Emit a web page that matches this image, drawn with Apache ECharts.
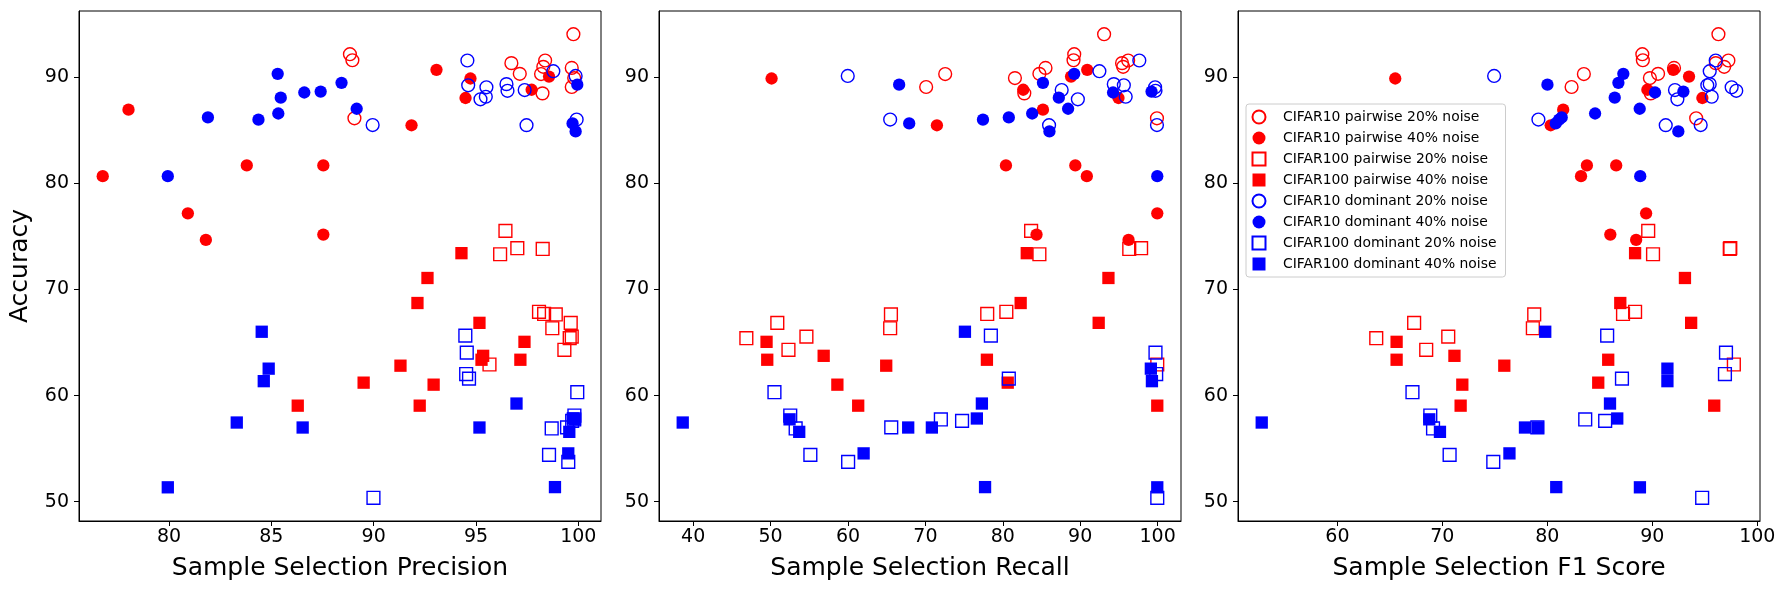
<!DOCTYPE html>
<html>
<head>
<meta charset="utf-8">
<title>Sample selection quality vs accuracy</title>
<script src="https://cdn.jsdelivr.net/npm/echarts@6/dist/echarts.min.js"></script>
<style>
  html, body { margin: 0; padding: 0; background: #fff; }
  #chart { width: 1789px; height: 590px; }
</style>
</head>
<body>
<div id="chart"></div>
<script>
// every row: [precision, recall, f1, accuracy]
var c10Pair20 = [
  [99.76, 93.09, 96.30, 94.08], [88.84, 89.23, 89.05, 92.19], [88.96, 89.14, 89.10, 91.62],
  [98.38, 96.20, 97.25, 91.60], [96.73, 95.41, 96.05, 91.35], [98.29, 95.55, 96.85, 91.00],
  [97.14, 84.73, 90.55, 90.34], [98.18, 72.56, 83.48, 90.32], [99.68, 85.52, 92.07, 90.90],
  [99.68, 70.10, 82.31, 89.10], [98.25, 82.78, 89.85, 88.50], [89.06, 99.92, 94.18, 86.15],
  [99.80, 81.57, 89.77, 89.94]
];
var c10Pair40 = [
  [78.02, 85.19, 81.51, 86.96], [76.76, 90.86, 83.21, 80.69], [93.07, 90.91, 92.00, 90.72],
  [94.73, 50.13, 65.51, 89.90], [94.49, 94.95, 94.77, 88.06], [91.85, 71.49, 80.32, 85.49],
  [83.80, 89.37, 86.56, 81.70], [87.54, 80.41, 83.77, 81.70], [80.92, 99.96, 89.41, 77.19],
  [81.80, 96.25, 88.46, 74.68], [87.54, 84.36, 86.00, 75.18], [97.72, 82.64, 89.53, 88.84],
  [98.57, 88.82, 93.50, 90.08]
];
var c100Pair20 = [
  [96.44, 83.66, 89.61, 75.53], [96.18, 84.73, 90.07, 73.33], [97.02, 97.87, 97.43, 73.90],
  [98.26, 96.34, 97.38, 73.83], [98.08, 80.46, 88.36, 67.90], [98.33, 77.99, 87.21, 67.70],
  [98.90, 65.55, 78.75, 67.65], [98.73, 65.45, 78.62, 66.35], [99.63, 50.87, 67.31, 66.86],
  [99.68, 54.63, 70.56, 65.56], [99.58, 46.87, 63.70, 65.41], [99.32, 52.31, 68.46, 64.32],
  [95.66, 99.96, 97.77, 62.93]
];
var c100Pair40 = [
  [94.29, 83.10, 88.36, 73.43], [92.63, 93.65, 93.11, 71.09], [92.14, 82.31, 86.95, 68.73],
  [95.17, 92.39, 93.70, 66.86], [97.37, 49.48, 65.64, 65.07], [97.17, 49.57, 65.64, 63.38],
  [95.27, 77.95, 85.80, 63.38], [95.35, 56.86, 71.15, 63.75], [91.31, 64.94, 75.90, 62.82],
  [89.51, 80.64, 84.85, 61.22], [92.93, 58.63, 71.90, 61.03], [86.29, 61.32, 71.74, 59.05],
  [92.25, 99.96, 95.90, 59.05]
];
var c10Dom20 = [
  [99.87, 59.97, 74.93, 90.14], [99.92, 65.45, 79.15, 86.03], [89.95, 99.92, 94.61, 85.51],
  [97.47, 85.98, 91.28, 85.50], [94.58, 97.64, 96.04, 91.60], [98.78, 92.48, 95.47, 90.59],
  [96.49, 94.34, 95.47, 89.37], [94.62, 95.64, 95.24, 89.26], [95.51, 99.68, 97.56, 89.07],
  [96.54, 99.73, 98.00, 88.74], [97.38, 87.61, 92.16, 88.81], [95.22, 89.70, 92.39, 87.94],
  [95.48, 95.88, 95.66, 88.18]
];
var c10Dom40 = [
  [85.31, 89.23, 87.24, 90.34], [85.46, 87.24, 86.42, 88.09], [85.34, 83.80, 84.55, 86.60],
  [86.61, 94.25, 90.26, 88.58], [87.41, 99.22, 92.96, 88.67], [88.43, 85.19, 86.77, 89.49],
  [89.17, 88.44, 88.80, 87.05], [81.90, 80.78, 81.37, 86.23], [84.37, 77.44, 81.12, 86.02],
  [79.94, 99.96, 88.85, 80.69], [99.95, 66.61, 80.01, 89.32], [99.72, 67.91, 80.80, 85.66],
  [99.87, 86.03, 92.48, 84.91]
];
var c100Dom20 = [
  [94.48, 78.46, 85.70, 65.65], [94.55, 99.73, 97.02, 64.05], [94.52, 99.82, 96.92, 62.03],
  [94.66, 80.78, 87.11, 61.60], [89.99, 99.96, 94.75, 50.36], [99.95, 50.50, 67.15, 60.32],
  [99.81, 52.54, 68.85, 58.12], [98.70, 53.24, 69.11, 56.90], [98.57, 55.14, 70.69, 54.41],
  [99.51, 60.02, 74.85, 53.75], [99.45, 65.59, 79.05, 57.00], [99.80, 72.00, 83.61, 57.75],
  [99.70, 74.74, 85.51, 57.62]
];
var c100Dom40 = [
  [83.31, 38.65, 52.79, 57.46], [99.84, 52.45, 68.75, 57.76], [99.56, 53.70, 69.77, 56.58],
  [99.51, 62.02, 76.39, 54.55], [86.53, 70.84, 77.87, 56.99], [95.17, 67.78, 79.11, 56.99],
  [84.53, 75.11, 79.80, 66.02], [99.73, 76.65, 86.66, 57.84], [96.98, 77.30, 85.97, 59.25],
  [79.94, 99.96, 88.82, 51.35], [98.86, 77.71, 80.85, 51.37], [84.87, 99.13, 91.44, 62.54],
  [84.63, 99.27, 91.44, 61.36]
];

var xTicks = [
  [80, 85, 90, 95, 100],
  [40, 50, 60, 70, 80, 90, 100],
  [60, 70, 80, 90, 100]
];
var yTicks = [50, 60, 70, 80, 90];
var xNames = ['Sample Selection Precision', 'Sample Selection Recall', 'Sample Selection F1 Score'];

var RED = '#ff0000', BLUE = '#0000ff';
var FONT = 'DejaVu Sans';
var groups = [
  { name: 'CIFAR10 pairwise 20% noise',  rows: c10Pair20,  color: RED,  shape: 'circle', hollow: true },
  { name: 'CIFAR10 pairwise 40% noise',  rows: c10Pair40,  color: RED,  shape: 'circle', hollow: false },
  { name: 'CIFAR100 pairwise 20% noise', rows: c100Pair20, color: RED,  shape: 'square', hollow: true },
  { name: 'CIFAR100 pairwise 40% noise', rows: c100Pair40, color: RED,  shape: 'square', hollow: false },
  { name: 'CIFAR10 dominant 20% noise',  rows: c10Dom20,   color: BLUE, shape: 'circle', hollow: true },
  { name: 'CIFAR10 dominant 40% noise',  rows: c10Dom40,   color: BLUE, shape: 'circle', hollow: false },
  { name: 'CIFAR100 dominant 20% noise', rows: c100Dom20,  color: BLUE, shape: 'square', hollow: true },
  { name: 'CIFAR100 dominant 40% noise', rows: c100Dom40,  color: BLUE, shape: 'square', hollow: false }
];

// matplotlib style autoscale: data range plus 5% on each side
function padded(col) {
  var vals = [];
  groups.forEach(function (g) { g.rows.forEach(function (r) { vals.push(r[col]); }); });
  var lo = Math.min.apply(null, vals), hi = Math.max.apply(null, vals);
  var m = (hi - lo) * 0.05;
  return [lo - m, hi + m];
}

var gridLefts = [79, 659, 1238];
var grids = [], xAxes = [], yAxes = [], series = [];
var yRange = padded(3);

for (var p = 0; p < 3; p++) {
  var xr = padded(p);
  grids.push({
    left: gridLefts[p], top: 11, width: 522, height: 510,
    show: true, borderColor: '#000', borderWidth: 1, backgroundColor: '#fff'
  });
  xAxes.push({
    gridIndex: p, type: 'value', min: xr[0], max: xr[1],
    name: xNames[p], nameLocation: 'middle', nameGap: 35,
    nameTextStyle: { fontFamily: FONT, fontSize: 25, color: '#000' },
    axisLine: { show: true, lineStyle: { color: '#000', width: 1 } },
    axisTick: { show: true, length: 5, customValues: xTicks[p], lineStyle: { color: '#000', width: 1 } },
    axisLabel: { customValues: xTicks[p], margin: 7, fontFamily: FONT, fontSize: 19, color: '#000' },
    splitLine: { show: false }
  });
  yAxes.push({
    gridIndex: p, type: 'value', min: yRange[0], max: yRange[1],
    name: p === 0 ? 'Accuracy' : '', nameLocation: 'middle', nameGap: 46,
    nameTextStyle: { fontFamily: FONT, fontSize: 25, color: '#000' },
    axisLine: { show: true, lineStyle: { color: '#000', width: 1 } },
    axisTick: { show: true, length: 5, customValues: yTicks, lineStyle: { color: '#000', width: 1 } },
    axisLabel: { customValues: yTicks, margin: 10, fontFamily: FONT, fontSize: 19, color: '#000' },
    splitLine: { show: false }
  });
  groups.forEach(function (g) {
    series.push({
      name: g.name,
      type: 'scatter',
      xAxisIndex: p,
      yAxisIndex: p,
      symbol: g.shape === 'circle' ? 'circle' : 'rect',
      symbolSize: g.hollow ? 12.8 : 12.3,
      data: g.rows.map(function (r) { return [r[p], r[3]]; }),
      itemStyle: g.hollow
        ? { color: 'none', borderColor: g.color, borderWidth: 1.4, opacity: 1 }
        : { color: g.color, borderWidth: 0, opacity: 1 },
      emphasis: { disabled: true }
    });
  });
}

var chart = echarts.init(document.getElementById('chart'), null, { renderer: 'canvas' });
chart.setOption({
  animation: false,
  backgroundColor: '#fff',
  textStyle: { fontFamily: FONT },
  grid: grids,
  xAxis: xAxes,
  yAxis: yAxes,
  legend: {
    orient: 'vertical',
    left: 1246, top: 104,
    itemWidth: 38, itemHeight: 13, itemGap: 5,
    padding: [4, 9, 6, 4],
    backgroundColor: 'rgba(255,255,255,0.8)',
    borderColor: '#cccccc', borderWidth: 1, borderRadius: 3,
    selectedMode: false,
    textStyle: { fontFamily: FONT, fontSize: 13.9, color: '#000', lineHeight: 14 },
    data: groups.map(function (g) {
      return { name: g.name, icon: g.shape === 'circle' ? 'circle' : 'path://M0,0H10V10H0Z' };
    })
  },
  series: series
});

window.onresize = function () {
  chart.resize();
};
</script>
</body>
</html>
